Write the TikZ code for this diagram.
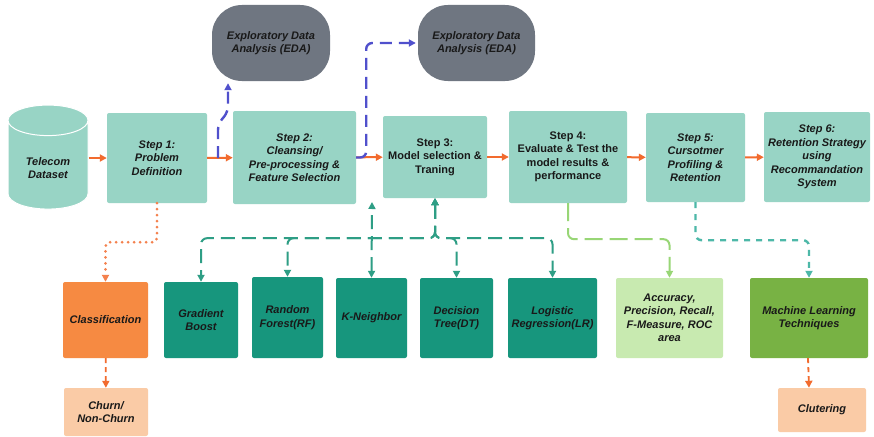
\documentclass[tikz,border=0pt]{standalone}
\usepackage{fontspec}
\setmainfont{Liberation Sans}
\usetikzlibrary{shapes.geometric,arrows.meta}

\definecolor{stepfill}{HTML}{98D4C5}
\definecolor{edafill}{HTML}{6F7681}
\definecolor{modelfill}{HTML}{17967D}
\definecolor{classfill}{HTML}{F68A42}
\definecolor{outfill}{HTML}{FACBA6}
\definecolor{evalfill}{HTML}{C8EAB0}
\definecolor{mlfill}{HTML}{78B244}
\definecolor{flow}{HTML}{F26B2E}
\definecolor{edaline}{HTML}{5050CC}
\definecolor{modelline}{HTML}{2E9E85}
\definecolor{evalline}{HTML}{98D676}
\definecolor{mlline}{HTML}{4DB8A8}

\begin{document}
\begin{tikzpicture}[
	x=1pt, y=-1pt,
	font=\fontsize{11}{13.5}\selectfont\bfseries\itshape,
	box/.style={rectangle, rounded corners=2pt, align=center, text=black!90, inner sep=2pt},
	stepbox/.style={box, fill=stepfill},
	edabox/.style={box, rounded corners=30pt, fill=edafill, minimum width=118pt, minimum height=76pt},
	modelbox/.style={box, fill=modelfill, minimum height=80pt},
	outbox/.style={box, fill=outfill},
	tip/.style={-{Triangle[length=7pt,width=7pt]}},
	flowarrow/.style={tip, draw=flow, line width=2pt},
	edaarrow/.style={tip, draw=edaline, line width=2.4pt, dash pattern=on 12pt off 7pt, rounded corners=6pt},
	modelarrow/.style={{Triangle[length=7pt,width=7pt]}-{Triangle[length=7pt,width=7pt]}, draw=modelline, line width=2pt, dash pattern=on 14pt off 7pt, rounded corners=6pt},
	evalarrow/.style={tip, draw=evalline, line width=2pt, dash pattern=on 18pt off 7pt, rounded corners=6pt},
	mlarrow/.style={tip, draw=mlline, line width=2.4pt, dash pattern=on 6pt off 6pt, rounded corners=6pt},
	classarrow/.style={tip, draw=flow!85, line width=3pt, line cap=round, dash pattern=on 0pt off 6pt, rounded corners=4pt},
	outarrow/.style={tip, draw=flow, line width=1.8pt, dash pattern=on 5pt off 4pt}
]
	\fill[white] (0,0) rectangle (874,436);
	\useasboundingbox (0,0) rectangle (874,436);

	% main flow
	\node[cylinder, shape border rotate=90, aspect=0.6, draw=white, line width=1pt, fill=stepfill,
		minimum width=80pt, minimum height=104pt, align=center, text=black!90] (data) at (48,168) {Telecom\\Dataset};
	\node[stepbox, minimum width=100pt, minimum height=90pt] (s1) at (157,158) {Step 1:\\Problem\\Definition};
	\node[stepbox, minimum width=123pt, minimum height=93pt] (s2) at (294.5,157.5) {Step 2:\\Cleansing/\\Pre-processing \&\\Feature Selection};
	\node[stepbox, minimum width=104pt, minimum height=82pt, font=\fontsize{11}{13.5}\selectfont\bfseries] (s3) at (435,157) {Step 3:\\Model selection \&\\Traning};
	\node[stepbox, minimum width=118pt, minimum height=92pt, font=\fontsize{11}{13.5}\selectfont\bfseries] (s4) at (568,157) {Step 4:\\Evaluate \& Test the\\model results \&\\performance};
	\node[stepbox, minimum width=99pt, minimum height=89pt] (s5) at (695.5,157.5) {Step 5:\\Cursotmer\\Profiling \&\\Retention};
	\node[stepbox, minimum width=106pt, minimum height=90pt] (s6) at (817,157) {Step 6:\\Retention Strategy\\using\\Recommandation\\System};

	\node[edabox] (eda1) at (271,43) {Exploratory Data\\Analysis (EDA)};
	\node[edabox, minimum width=117pt] (eda2) at (476.5,43) {Exploratory Data\\Analysis (EDA)};

	% second row
	\node[box, fill=classfill, minimum width=85pt, minimum height=76pt] (class) at (105.5,320) {Classification};
	\node[modelbox, minimum width=74pt, minimum height=76pt] (gb) at (201,320) {Gradient\\Boost};
	\node[modelbox, minimum width=71pt, minimum height=81pt] (rf) at (287.5,317.5) {Random\\Forest(RF)};
	\node[modelbox, minimum width=71pt] (kn) at (371.5,318) {K-Neighbor};
	\node[modelbox, minimum width=73pt] (dt) at (456.5,318) {Decision\\Tree(DT)};
	\node[modelbox, minimum width=89pt] (lr) at (552.5,318) {Logistic\\Regression(LR)};
	\node[box, fill=evalfill, minimum width=107pt, minimum height=80pt] (acc) at (669.5,318) {Accuracy,\\Precision, Recall,\\F-Measure, ROC\\area};
	\node[box, fill=mlfill, minimum width=118pt, minimum height=80pt] (ml) at (809,318) {Machine Learning\\Techniques};

	\node[outbox, minimum width=84pt, minimum height=48pt] (churn) at (106,412) {Churn/\\Non-Churn};
	\node[outbox, minimum width=88pt, minimum height=44pt] (clust) at (822,410) {Clutering};

	\draw[flowarrow] (data.east |- s1) -- (s1);
	\draw[flowarrow] (s1) -- (s2);
	\draw[flowarrow] (s2) -- (s3);
	\draw[flowarrow] (s3) -- (s4);
	\draw[flowarrow] (s4) -- (s5);
	\draw[flowarrow] (s5) -- (s6);

	% eda branches
	\coordinate (j1) at (218,158);
	\draw[edaarrow] (j1) -- ++(0,-34) -- ++(10,-12) -- ([xshift=-43pt,yshift=-2pt]eda1.south);
	\draw[edaarrow] (s2.east) -- ++(10,0) |- ([xshift=-2pt]eda2.west);

	% models
	\foreach \m in {gb,rf,dt,lr}
		\draw[modelarrow] (s3.south) -- ++(0,40) -| (\m.north);
	\coordinate (knup) at (372,202);
	\draw[modelarrow] (kn.north) -- (knup);

	\draw[classarrow] (s1.south) -- ++(0,39) -| (class.north);
	\draw[evalarrow] (s4.south) -- ++(0,36) -| (acc.north);
	\draw[mlarrow] (s5.south) -- ++(0,38) -| (ml.north);
	\draw[outarrow] (class) -- (churn);
	\draw[outarrow] ([xshift=-1pt]ml.south) -- (clust.north -| ml.south);
\end{tikzpicture}
\end{document}
